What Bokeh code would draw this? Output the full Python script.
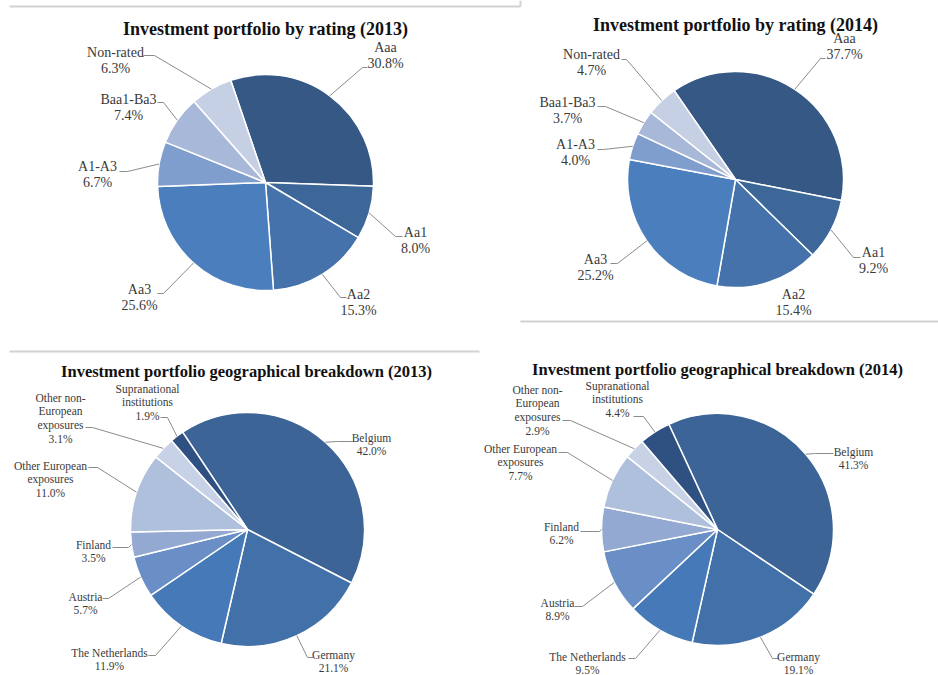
import math

from bokeh.core.properties import value
from bokeh.embed import file_html
from bokeh.models import ColumnDataSource, Range1d
from bokeh.plotting import figure
from bokeh.resources import INLINE

W, H = 938, 675

# ---------------- data ----------------
rating_names = ["Aaa", "Aa1", "Aa2", "Aa3", "A1-A3", "Baa1-Ba3", "Non-rated"]
rating_2013 = [30.8, 8.0, 15.3, 25.6, 6.7, 7.4, 6.3]
rating_2014 = [37.7, 9.2, 15.4, 25.2, 4.0, 3.7, 4.7]

geo_names = [
    "Belgium",
    "Germany",
    "The Netherlands",
    "Austria",
    "Finland",
    "Other European\nexposures",
    "Other non-\nEuropean\nexposures",
    "Supranational\ninstitutions",
]
geo_2013 = [42.0, 21.1, 11.9, 5.7, 3.5, 11.0, 3.1, 1.9]
geo_2014 = [41.3, 19.1, 9.5, 8.9, 6.2, 7.7, 2.9, 4.4]

# ---------------- styles ----------------
rating_colors = ["#355885", "#3d6699", "#4572ab", "#4a7ebc", "#809ecd", "#a8b8d9", "#c6d0e4"]
geo_colors = ["#3c6496", "#4270a8", "#4679b7", "#6a8fc6", "#93a9d2", "#afc0dd", "#c8d2e6", "#2e5181"]

FONT = "Liberation Serif"
LABEL_COLOR = "#3a3a3a"
LEADER_COLOR = "#8c8c8c"
FRAME_COLOR = "#d2d2d2"

# per-chart layout: pie centre/radius (pixels from top-left), first-slice angle,
# title placement and, for each slice, label anchor + leader elbow
charts = [
    dict(
        names=rating_names, values=rating_2013, colors=rating_colors,
        title="Investment portfolio by rating (2013)", tx=265, ty=28, tsize="18px",
        cx=265, cy=182, r=108, start=108.8, lsize="14px", lh=15.5,
        labels=[(385, 47, 362, 67, 367), (415, 232, 395, 236, 402),
                (358, 294, 340, 297, 346), (139, 289, 163, 293, 157),
                (97, 166, 127, 171, 119), (128, 99, 163, 102, 157),
                (115, 52, 154, 55, 143)],
    ),
    dict(
        names=rating_names, values=rating_2014, colors=rating_colors,
        title="Investment portfolio by rating (2014)", tx=735, ty=24, tsize="18px",
        cx=735, cy=179, r=108, start=124.6, lsize="14px", lh=15.5,
        labels=[(844, 38, 820, 58, 825), (873, 252, 853, 257, 860),
                (793, 294, None, None, None), (595, 259, 617, 263, 610),
                (575, 144, 603, 149, 597), (567, 102, 605, 106, 597),
                (591, 54, 626, 59, 621)],
    ),
    dict(
        names=geo_names, values=geo_2013, colors=geo_colors,
        title="Investment portfolio geographical breakdown (2013)", tx=246, ty=371, tsize="16.5px",
        cx=247, cy=529, r=117, start=123.7, lsize="11.5px", lh=13.7,
        labels=[(371, 437, 337, 441, 352), (333, 654, 307, 657, 313),
                (109, 652, 155, 655, 148), (85, 596, 108, 598, 102),
                (93, 544, 128, 547, 112), (50, 465, 97, 467, 88),
                (60, 397, 92, 427, 85), (147, 388, 167, 417, 160)],
    ),
    dict(
        names=geo_names, values=geo_2014, colors=geo_colors,
        title="Investment portfolio geographical breakdown (2014)", tx=717, ty=369, tsize="16.5px",
        cx=717, cy=529, r=116, start=114.8, lsize="11.5px", lh=13.7,
        labels=[(853, 451, 815, 453, 833), (798, 656, 772, 658, 778),
                (587, 656, 635, 658, 628), (557, 602, 582, 606, 574),
                (561, 526, 599, 531, 580), (520, 448, 567, 452, 558),
                (537, 389, 570, 420, 562), (617, 385, 643, 416, 633)],
    ),
]

p = figure(
    width=W, height=H,
    x_range=Range1d(0, W), y_range=Range1d(0, H),
    output_backend="svg", toolbar_location=None,
    x_axis_location=None, y_axis_location=None,
    min_border=0,
)
p.grid.visible = False
p.outline_line_color = None
p.background_fill_color = "white"


def Y(y):
    """Convert a top-down pixel row into the figure's bottom-up y coordinate."""
    return H - y


# thin frame rules between the panels
frame = [((9, 6), (520, 6)), ((520, 0), (520, 6)),
         ((520, 321), (938, 321)), ((9, 351), (479, 351))]
p.segment(
    x0=[a[0] for a, b in frame], y0=[Y(a[1]) for a, b in frame],
    x1=[b[0] for a, b in frame], y1=[Y(b[1]) for a, b in frame],
    line_color=FRAME_COLOR, line_width=2,
)

for c in charts:
    vals = c["values"]
    total = sum(vals)
    starts, ends, mids = [], [], []
    a = c["start"]
    for v in vals:
        sweep = v / total * 360.0
        # slices run clockwise: the wedge spans [a - sweep, a]
        starts.append(math.radians(a - sweep))
        ends.append(math.radians(a))
        mids.append(math.radians(a - sweep / 2))
        a -= sweep

    src = ColumnDataSource(dict(
        start=starts, end=ends, color=c["colors"][: len(vals)],
    ))
    p.wedge(
        x=c["cx"], y=Y(c["cy"]), radius=c["r"],
        start_angle="start", end_angle="end", direction="anticlock",
        fill_color="color", line_color="white", line_width=1.5, source=src,
    )

    # leader lines: slice edge at mid-angle -> elbow -> short horizontal run
    xs, ys = [], []
    tx, ty, tt = [], [], []
    for name, v, m, lab in zip(c["names"], vals, mids, c["labels"]):
        lx, ly, ex, ey, hx = lab
        if ex is not None:
            px = c["cx"] + c["r"] * math.cos(m)
            py = c["cy"] - c["r"] * math.sin(m)
            xs.append([px, ex, hx])
            ys.append([Y(py), Y(ey), Y(ey)])
        lines = name.split("\n") + [f"{v:.1f}%"]
        for i, line in enumerate(lines):
            tx.append(lx)
            ty.append(Y(ly + i * c["lh"]))
            tt.append(line)

    p.multi_line(xs=xs, ys=ys, line_color=LEADER_COLOR, line_width=1)
    p.text(
        x=tx, y=ty, text=tt,
        text_font=value(FONT), text_font_size=c["lsize"],
        text_color=LABEL_COLOR, text_align="center", text_baseline="middle",
    )
    p.text(
        x=[c["tx"]], y=[Y(c["ty"])], text=[c["title"]],
        text_font=value(FONT), text_font_size=c["tsize"], text_font_style="bold",
        text_color="#111111", text_align="center", text_baseline="middle",
    )

open("out.html", "w").write(file_html(p, INLINE))
